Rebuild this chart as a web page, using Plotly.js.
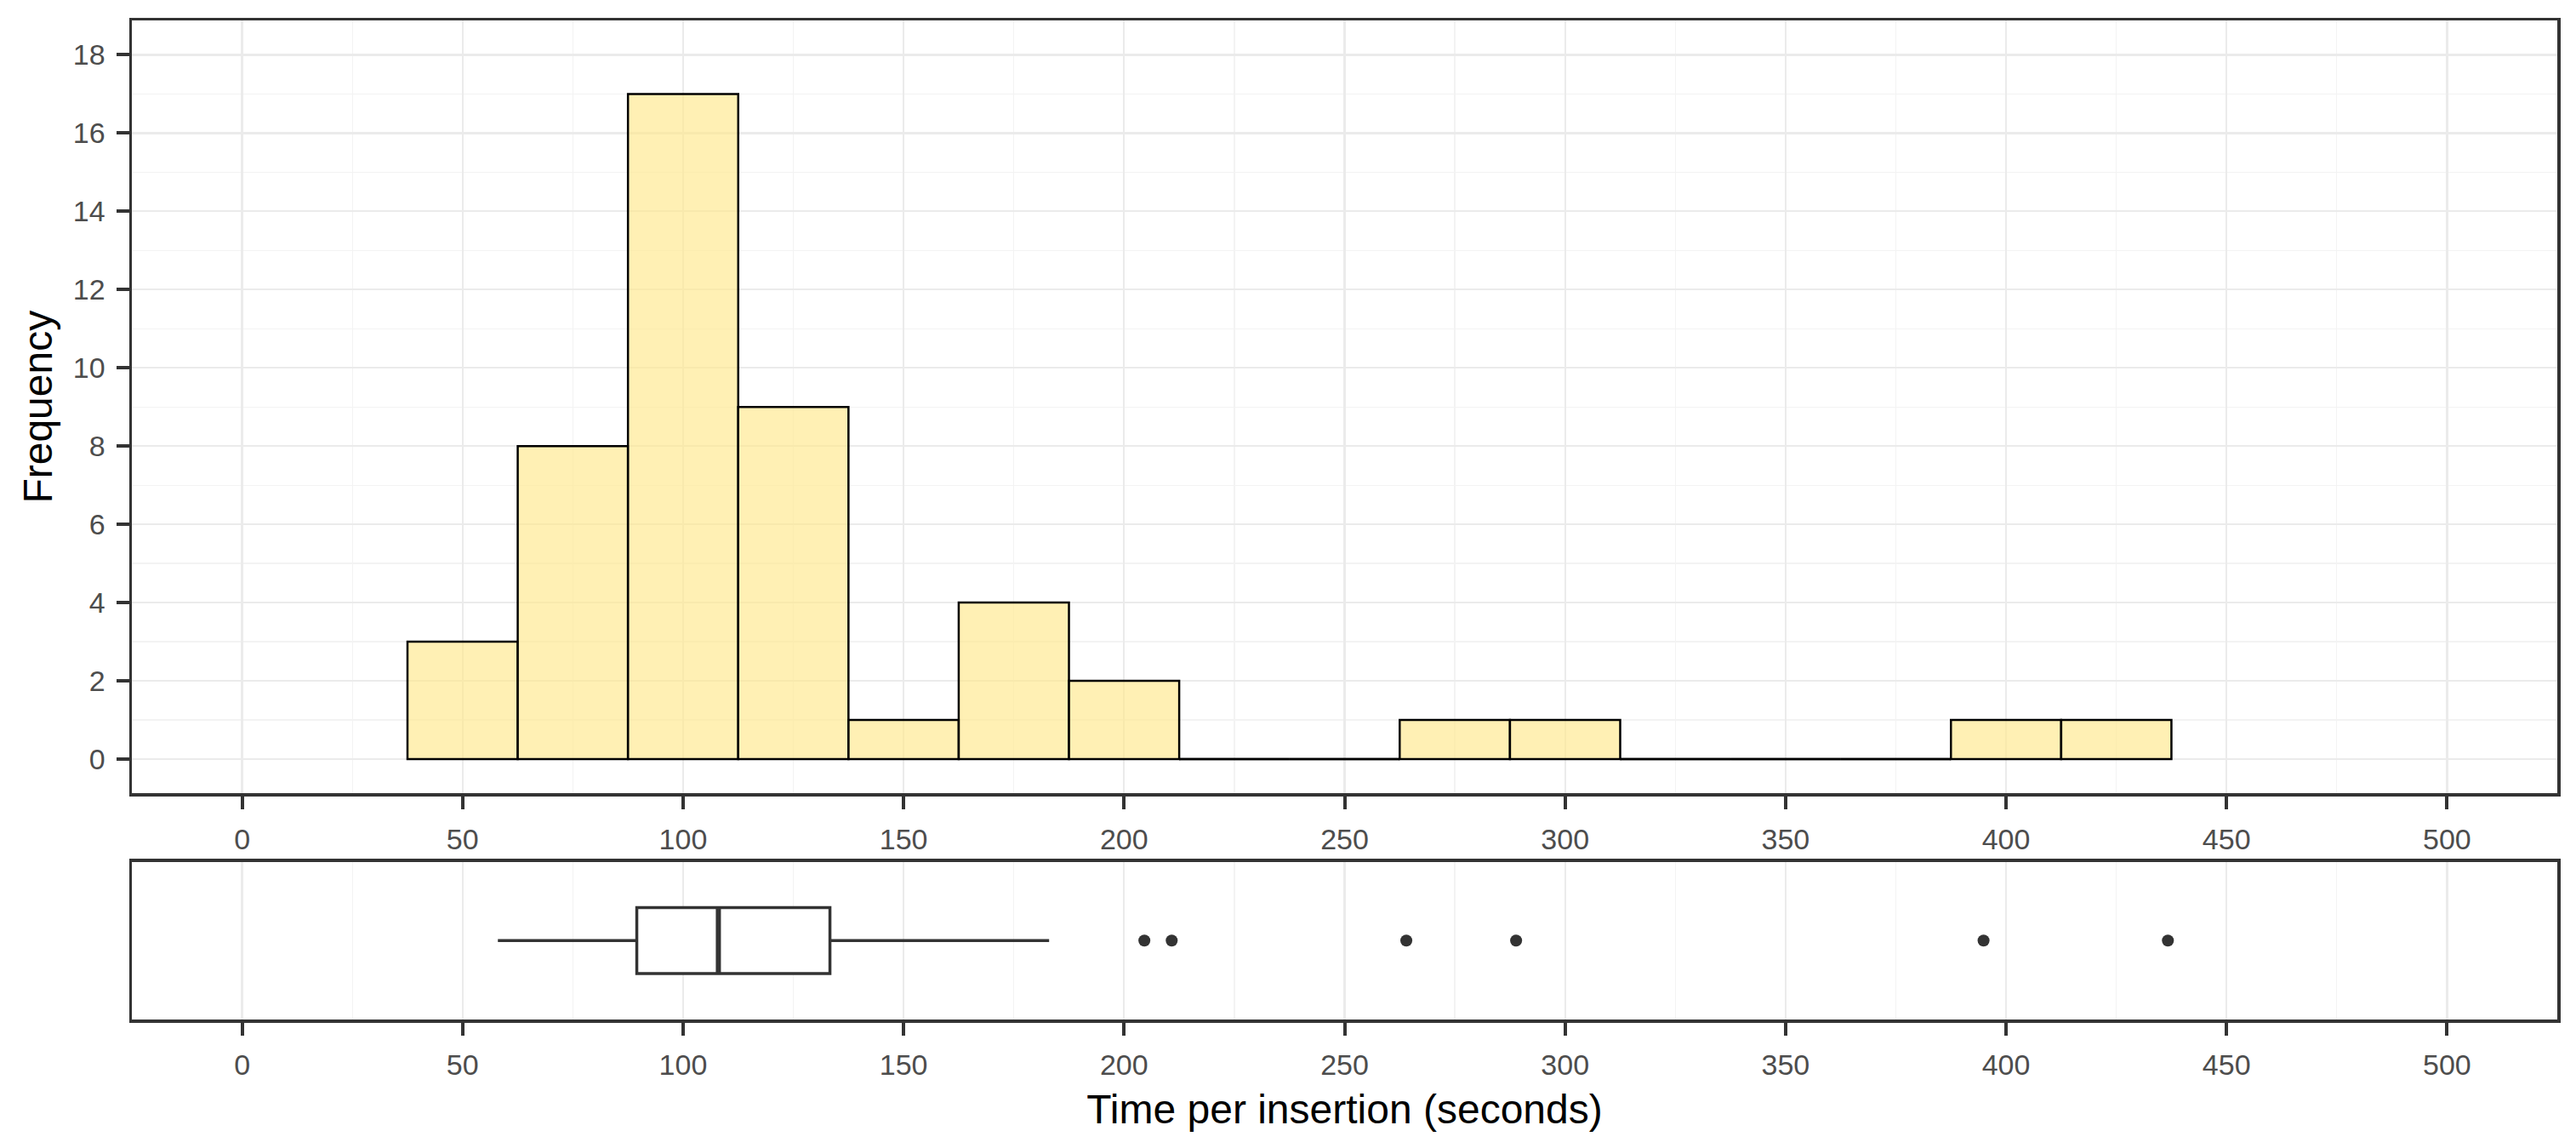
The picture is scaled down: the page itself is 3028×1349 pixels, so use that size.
<!DOCTYPE html>
<html>
<head>
<meta charset="utf-8">
<script src="https://cdn.plot.ly/plotly-3.0.1.min.js"></script>
<style>html,body{margin:0;padding:0;background:#fff;}</style>
</head>
<body>
<div id="chart" style="width:3028px;height:1349px;"></div>
<script>
// ---- data ----
const binCenters = [50, 75, 100, 125, 150, 175, 200, 225, 250, 275, 300, 325, 350, 375, 400, 425];
const binCounts  = [3, 8, 17, 9, 1, 4, 2, 0, 0, 1, 1, 0, 0, 0, 1, 1];
const binWidth = 25;

const boxLowerWhisker = [58];
const boxQ1 = [89.5];
const boxMedian = [108];
const boxQ3 = [133.3];
const boxUpperWhisker = [183];
const boxOutliers = [204.6, 210.8, 264, 288.9, 394.9, 436.7];

const xTickVals = [0, 50, 100, 150, 200, 250, 300, 350, 400, 450, 500];
const yTickVals = [0, 2, 4, 6, 8, 10, 12, 14, 16, 18];

// ---- styles ----
const FONT = 'Liberation Sans, Arial, sans-serif';
const border = '#333333';
const gridMajor = '#EBEBEB';
const gridMinor = '#F3F3F3';

// zero-count bins are drawn by ggplot as flat outlines along zero
const zx = [], zy = [];
binCenters.forEach((c, i) => {
  if (binCounts[i] === 0) {
    zx.push(c - binWidth / 2, c + binWidth / 2, null);
    zy.push(0, 0, null);
  }
});

const boxPos = 1, boxW = 0.5;

const traces = [
  {
    type: 'bar', x: binCenters, y: binCounts, width: binCenters.map(() => binWidth),
    marker: {color: 'rgba(255,232,140,0.65)', line: {color: '#000000', width: 2.5}},
    xaxis: 'x', yaxis: 'y', hoverinfo: 'x+y', showlegend: false
  },
  {
    type: 'scatter', mode: 'lines', x: zx, y: zy,
    line: {color: '#000000', width: 2.5},
    xaxis: 'x', yaxis: 'y', showlegend: false, hoverinfo: 'skip'
  },
  {
    type: 'box', orientation: 'h', y: [boxPos],
    q1: boxQ1, median: boxMedian, q3: boxQ3,
    lowerfence: boxLowerWhisker, upperfence: boxUpperWhisker,
    boxpoints: false, width: boxW, whiskerwidth: 0,
    fillcolor: '#FFFFFF', line: {color: border, width: 3.5},
    xaxis: 'x2', yaxis: 'y2', showlegend: false
  },
  {
    type: 'scatter', mode: 'lines',
    x: [boxMedian[0], boxMedian[0]], y: [boxPos - boxW / 2, boxPos + boxW / 2],
    line: {color: border, width: 6},
    xaxis: 'x2', yaxis: 'y2', showlegend: false, hoverinfo: 'skip'
  },
  {
    type: 'scatter', mode: 'markers', x: boxOutliers, y: boxOutliers.map(() => boxPos),
    marker: {color: border, size: 14},
    xaxis: 'x2', yaxis: 'y2', showlegend: false
  }
];

const xCommon = {
  range: [-25, 525], tickvals: xTickVals, ticktext: xTickVals.map(String),
  ticks: 'outside', ticklen: 15, tickwidth: 4, tickcolor: border,
  tickfont: {family: FONT, size: 34, color: '#4D4D4D'},
  showline: true, linecolor: border, linewidth: 3.5, mirror: true,
  showgrid: true, gridcolor: gridMajor, gridwidth: 2.2,
  minor: {dtick: 25, tick0: 0, showgrid: true, gridcolor: gridMinor, gridwidth: 1.3},
  zeroline: false, ticklabelstandoff: 6
};

const layout = {
  width: 3028, height: 1349,
  margin: {l: 155, r: 22, t: 24, b: 151},
  paper_bgcolor: '#FFFFFF', plot_bgcolor: '#FFFFFF',
  bargap: 0,
  showlegend: false,
  font: {family: FONT},
  xaxis: Object.assign({}, xCommon, {anchor: 'y'}),
  yaxis: {
    domain: [0.2262, 1], anchor: 'x',
    range: [-0.88, 18.88], tickvals: yTickVals,
    ticks: 'outside', ticklen: 15, tickwidth: 4, tickcolor: border,
    tickfont: {family: FONT, size: 34, color: '#4D4D4D'},
    showline: true, linecolor: border, linewidth: 3.5, mirror: true,
    showgrid: true, gridcolor: gridMajor, gridwidth: 2.2,
    minor: {dtick: 1, tick0: 0, showgrid: true, gridcolor: gridMinor, gridwidth: 1.3},
    zeroline: false, ticklabelstandoff: 6,
    title: {text: 'Frequency', font: {family: FONT, size: 48, color: '#000000'}, standoff: 10}
  },
  xaxis2: Object.assign({}, xCommon, {
    anchor: 'y2',
    title: {text: 'Time per insertion (seconds)', font: {family: FONT, size: 48, color: '#000000'}, standoff: 18}
  }),
  yaxis2: {
    domain: [0, 0.158], anchor: 'x2',
    range: [0.4, 1.6], showticklabels: false, ticks: '',
    showline: true, linecolor: border, linewidth: 3.5, mirror: true,
    showgrid: false, zeroline: false
  }
};

Plotly.newPlot('chart', traces, layout, {displayModeBar: false, staticPlot: true});
</script>
</body>
</html>
